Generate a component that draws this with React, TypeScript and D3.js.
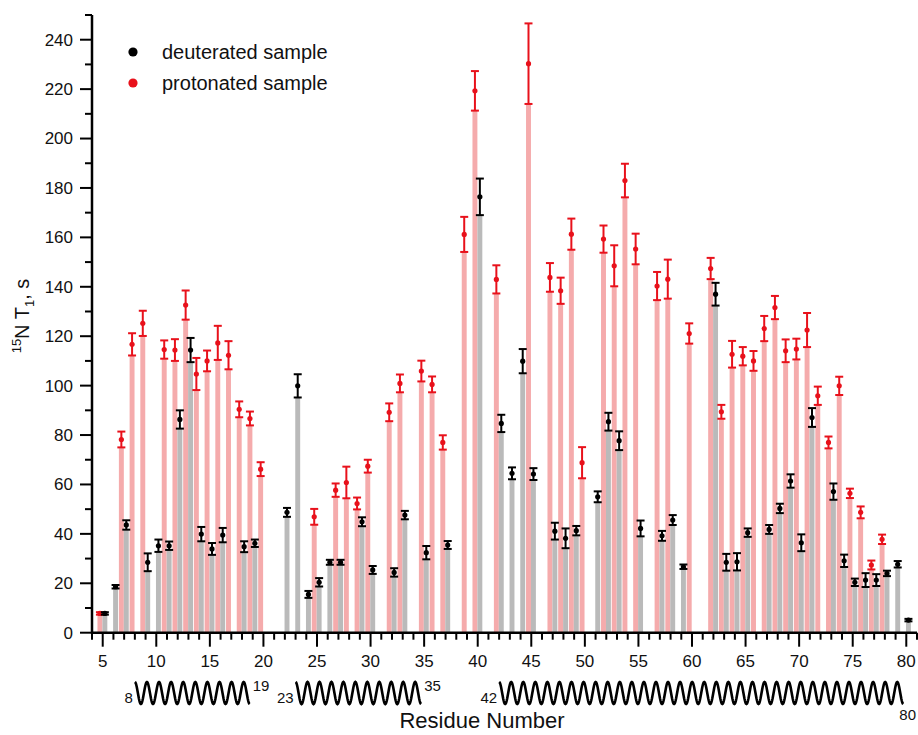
import React from 'react';
import * as d3 from 'd3';

// ---- data ----
const protRes = [5, 7, 8, 9, 11, 12, 13, 14, 15, 16, 17, 18, 19, 20, 25, 27, 28, 29, 30, 32, 33, 35, 36, 37, 39, 40, 42, 45, 47, 48, 49, 50, 52, 53, 54, 55, 57, 58, 60, 62, 63, 64, 65, 66, 67, 68, 69, 70, 71, 72, 73, 74, 75, 76, 77, 78];
const protT1 = [7.8, 78.2, 116.7, 125.2, 114.6, 114.4, 132.6, 104.7, 110, 117.3, 112.3, 90.4, 86.7, 66.2, 46.9, 57.7, 60.8, 52.3, 67.4, 89.2, 100.9, 105.9, 100.5, 77.0, 161.2, 219.3, 143, 230.3, 143.8, 138.4, 161.3, 68.8, 159.3, 148.5, 183, 155.3, 140.3, 143.1, 121.1, 147.4, 89.4, 112.7, 111.9, 110, 123.1, 131.6, 114.1, 114.8, 122.5, 95.9, 77, 99.9, 56.4, 48.7, 27.4, 37.8];
const protErr = [0.5, 3.2, 4.5, 5.1, 3.7, 4.4, 5.9, 6.5, 4.2, 6.9, 5.7, 3.2, 2.8, 2.8, 3.2, 2.7, 6.4, 2.4, 2.6, 3.6, 3.6, 4.2, 3.2, 2.9, 7.1, 8, 5.7, 16.3, 5.8, 5.3, 6.3, 6.3, 5.5, 8.3, 6.8, 6.2, 5.7, 7.9, 4.1, 4.3, 2.8, 5.4, 3.7, 4, 5.1, 4.7, 4.6, 4.2, 6.9, 3.7, 2.4, 3.7, 1.9, 2.4, 1.8, 1.9];

const deutRes = [5, 6, 7, 9, 10, 11, 12, 13, 14, 15, 16, 18, 19, 22, 23, 24, 25, 26, 27, 29, 30, 32, 33, 35, 37, 40, 42, 43, 44, 45, 47, 48, 49, 51, 52, 53, 55, 57, 58, 59, 62, 63, 64, 65, 67, 68, 69, 70, 71, 73, 74, 75, 76, 77, 78, 79, 80];
const deutT1 = [7.8, 18.6, 43.6, 28.5, 35.2, 35.2, 86.3, 114.4, 39.9, 33.9, 39.5, 34.8, 36.2, 48.7, 99.9, 15.5, 20.4, 28.5, 28.5, 44.9, 25.4, 24.4, 47.6, 32.4, 35.5, 176.4, 84.7, 64.5, 109.9, 64.2, 41.1, 38.2, 41.3, 55, 85.4, 77.7, 42.2, 39.2, 45.6, 26.7, 137, 28.5, 28.7, 40.5, 41.8, 50.3, 61.4, 36.4, 87.1, 57.1, 29.1, 20.4, 21.3, 21.3, 24, 27.7, 5.1];
const deutErr = [0.5, 0.7, 1.9, 3.6, 2.5, 1.7, 3.7, 4.9, 2.9, 2.4, 2.9, 2.2, 1.5, 1.8, 4.7, 1.4, 1.7, 1, 1, 1.8, 1.6, 1.7, 1.7, 2.7, 1.6, 7.4, 3.5, 2.4, 4.9, 2.4, 3.4, 4, 1.9, 2.2, 3.6, 3.8, 3.2, 2, 2, 0.9, 4.6, 3.4, 3.5, 1.7, 1.8, 1.9, 2.7, 3.4, 3.8, 3.3, 2.5, 1.5, 2.8, 2.4, 1.1, 1.3, 0.5];

const xTickValues = [5, 10, 15, 20, 25, 30, 35, 40, 45, 50, 55, 60, 65, 70, 75, 80];
const yTickValues = [0, 20, 40, 60, 80, 100, 120, 140, 160, 180, 200, 220, 240];

const helixStart = [8, 23, 42];
const helixEnd = [19, 35, 80];

const seriesNames = ['deuterated sample', 'protonated sample'];

// ---- styling ----
const W = 918;
const H = 735;
const RED = '#e8111b';
const PINK = '#f5abac';
const GREY = '#bababa';
const FONT = 'Arial, "Liberation Sans", Helvetica, sans-serif';

export default function App() {
  const x = d3.scaleLinear().domain([4, 81]).range([92, 917]);
  const y = d3.scaleLinear().domain([0, 250]).range([632.7, 15]);
  const bw = x(0.46) - x(0);
  const protOff = -0.26;
  const deutOff = 0.2;
  const capHalf = 4;

  const minorX = d3.range(4, 82, 1).filter((v) => v % 5 !== 0);
  const minorY = d3.range(10, 251, 20);

  const prot = protRes.map((r, i) => ({ r, v: protT1[i], e: protErr[i] }));
  const deut = deutRes.map((r, i) => ({ r, v: deutT1[i], e: deutErr[i] }));

  const helixPath = (xa: number, xb: number, cy: number, amp: number) => {
    const n = Math.max(1, Math.round((xb - xa) / 12.2 - 0.5)) + 0.5;
    const pts: [number, number][] = [];
    const steps = Math.round(n * 24);
    for (let k = 0; k <= steps; k++) {
      const t = (k / steps) * n;
      pts.push([xa + (xb - xa) * (k / steps), cy - amp * Math.cos(2 * Math.PI * t)]);
    }
    return d3.line()(pts) || '';
  };

  const errorBar = (cx: number, v: number, e: number, color: string, key: string) => {
    const y1 = y(v + e);
    const y2 = y(v - e);
    return (
      <g key={key} stroke={color} strokeWidth={2}>
        <line x1={cx} x2={cx} y1={y1} y2={y2} />
        <line x1={cx - capHalf} x2={cx + capHalf} y1={y1} y2={y1} />
        <line x1={cx - capHalf} x2={cx + capHalf} y1={y2} y2={y2} />
        <circle cx={cx} cy={y(v)} r={2.6} fill={color} stroke="none" />
      </g>
    );
  };

  return (
    <svg
      width={W}
      height={H}
      style={{ position: 'absolute', left: 0, top: 0, background: '#fff' }}
      fontFamily={FONT}
    >
      <rect x={0} y={0} width={W} height={H} fill="#fff" />

      {/* bars */}
      {prot.map((d, i) => (
        <rect
          key={'pb' + i}
          x={x(d.r + protOff) - bw / 2}
          width={bw}
          y={y(d.v - d.e)}
          height={y(0) - y(d.v - d.e)}
          fill={PINK}
        />
      ))}
      {deut.map((d, i) => (
        <rect
          key={'db' + i}
          x={x(d.r + deutOff) - bw / 2}
          width={bw}
          y={y(d.v - d.e)}
          height={y(0) - y(d.v - d.e)}
          fill={GREY}
        />
      ))}

      {/* error bars and points */}
      {prot.map((d, i) => errorBar(x(d.r + protOff), d.v, d.e, RED, 'pe' + i))}
      {deut.map((d, i) => errorBar(x(d.r + deutOff), d.v, d.e, '#000', 'de' + i))}

      {/* y axis */}
      <line x1={92} x2={92} y1={y(250)} y2={y(0) + 1} stroke="#000" strokeWidth={2.5} />
      {yTickValues.map((v) => (
        <g key={'yt' + v}>
          <line x1={80} x2={92} y1={y(v)} y2={y(v)} stroke="#000" strokeWidth={2} />
          <text x={73} y={y(v)} dy="0.35em" textAnchor="end" fontSize={17} fill="#111">
            {v}
          </text>
        </g>
      ))}
      {minorY.map((v) => (
        <line key={'ym' + v} x1={85} x2={92} y1={y(v)} y2={y(v)} stroke="#000" strokeWidth={2} />
      ))}

      {/* x axis */}
      <line x1={91} x2={917} y1={y(0)} y2={y(0)} stroke="#000" strokeWidth={2.5} />
      {xTickValues.map((v) => (
        <g key={'xt' + v}>
          <line x1={x(v)} x2={x(v)} y1={y(0)} y2={y(0) + 14} stroke="#000" strokeWidth={2} />
          <text x={x(v)} y={667} textAnchor="middle" fontSize={17} fill="#111">
            {v}
          </text>
        </g>
      ))}
      {minorX.map((v) => (
        <line key={'xm' + v} x1={x(v)} x2={x(v)} y1={y(0)} y2={y(0) + 7} stroke="#000" strokeWidth={2} />
      ))}

      {/* helices */}
      {helixStart.map((s, i) => {
        const xa = x(s);
        const xb = x(helixEnd[i]) - 3;
        const last = i === helixStart.length - 1;
        return (
          <g key={'hx' + i}>
            <path d={helixPath(xa, xb, 693, 11)} fill="none" stroke="#000" strokeWidth={2.6} />
            <text x={xa - 2} y={703} textAnchor="end" fontSize={15} fill="#111">
              {s}
            </text>
            {last ? (
              <text x={916} y={720} textAnchor="end" fontSize={15} fill="#111">
                {helixEnd[i]}
              </text>
            ) : (
              <text x={xb + 3} y={691} textAnchor="start" fontSize={15} fill="#111">
                {helixEnd[i]}
              </text>
            )}
          </g>
        );
      })}

      {/* axis titles */}
      <text x={482} y={728} textAnchor="middle" fontSize={22} fill="#111">
        Residue Number
      </text>
      <text transform="translate(29,316) rotate(-90)" textAnchor="middle" fontSize={20} fill="#111">
        <tspan fontSize={13} dy={-8}>15</tspan>
        <tspan dy={8}>N T</tspan>
        <tspan fontSize={13} dy={5}>1</tspan>
        <tspan dy={-5}>, s</tspan>
      </text>

      {/* legend */}
      <circle cx={133} cy={52} r={4.6} fill="#000" />
      <text x={162} y={59} fontSize={20} fill="#111">
        {seriesNames[0]}
      </text>
      <circle cx={133} cy={83} r={4.6} fill={RED} />
      <text x={162} y={90} fontSize={20} fill="#111">
        {seriesNames[1]}
      </text>
    </svg>
  );
}
